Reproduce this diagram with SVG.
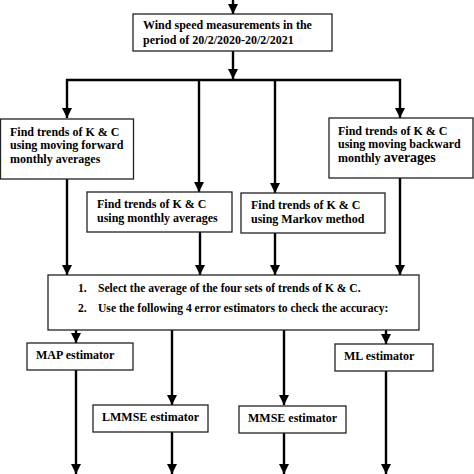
<svg xmlns="http://www.w3.org/2000/svg" width="474" height="474" viewBox="0 0 474 474">
<defs>
<marker id="ah" markerUnits="userSpaceOnUse" markerWidth="10" markerHeight="10" refX="8" refY="4" orient="auto" viewBox="0 0 8 8">
<path d="M0,0 L8,4 L0,8 Z" fill="#000"/>
</marker>
<style>
.box{fill:#fff;stroke:#222;stroke-width:1.3}
.t{font-family:"Liberation Serif","Times New Roman",serif;font-weight:bold;font-size:12px;fill:#000}
.s{font-size:11.6px}
.c{stroke:#000;stroke-width:2.4;fill:none}
.a{marker-end:url(#ah)}
</style>
</defs>
<rect width="474" height="474" fill="#fff"/>
<g id="connectors">
<path class="c a" d="M233,0 V14"/>
<path class="c a" d="M233,51 V79"/>
<path class="c" d="M66,80 H401"/>
<path class="c a" d="M67,79 V118"/>
<path class="c a" d="M199,79 V192"/>
<path class="c a" d="M275,79 V193"/>
<path class="c a" d="M400,79 V118"/>
<path class="c a" d="M67,179 V275"/>
<path class="c a" d="M200,232 V275"/>
<path class="c a" d="M275,233 V275"/>
<path class="c a" d="M400,178 V275"/>
<path class="c a" d="M76,330 V343"/>
<path class="c a" d="M172,330 V405"/>
<path class="c a" d="M284,330 V405"/>
<path class="c a" d="M386,330 V344"/>
<path class="c a" d="M76,370 V474"/>
<path class="c a" d="M172,432 V474"/>
<path class="c a" d="M284,433 V474"/>
<path class="c a" d="M386,371 V474"/>
</g>
<g id="wind">
<rect class="box" x="133" y="14" width="199" height="37"/>
<text class="t" x="143" y="29">Wind speed measurements in the</text>
<text class="t" x="143" y="44">period of 20/2/2020-20/2/2021</text>
</g>
<g id="forward">
<rect class="box" x="0.5" y="119" width="133" height="60"/>
<text class="t" x="10" y="136" font-size="12.4">Find trends of K &amp; C</text>
<text class="t" x="10" y="149" font-size="12.4">using moving forward</text>
<text class="t" x="10" y="163" font-size="12.4">monthly averages</text>
</g>
<g id="backward">
<rect class="box" x="329" y="118" width="144" height="60"/>
<text class="t" x="338" y="135">Find trends of K &amp; C</text>
<text class="t" x="338" y="148">using moving backward</text>
<text class="t" x="338" y="162">monthly <tspan font-size="14">averages</tspan></text>
</g>
<g id="monthly">
<rect class="box" x="87" y="192" width="145" height="40"/>
<text class="t" x="97" y="208">Find trends of K &amp; C</text>
<text class="t" x="97" y="222">using monthly averages</text>
</g>
<g id="markov">
<rect class="box" x="241" y="193" width="144" height="40"/>
<text class="t" x="251" y="209">Find trends of K &amp; C</text>
<text class="t" x="251" y="223">using Markov method</text>
</g>
<g id="select">
<rect class="box" x="48" y="275" width="371" height="55"/>
<text class="t s" x="78" y="292">1.</text>
<text class="t s" x="98" y="292">Select the average of the four sets of trends of K &amp; C.</text>
<text class="t s" x="78" y="312">2.</text>
<text class="t s" x="98" y="312">Use the following 4 error estimators to check the accuracy:</text>
</g>
<g id="map">
<rect class="box" x="27" y="343" width="106" height="27"/>
<text class="t" x="36" y="359">MAP estimator</text>
</g>
<g id="ml">
<rect class="box" x="335" y="344" width="98" height="27"/>
<text class="t" x="344" y="360">ML estimator</text>
</g>
<g id="lmmse">
<rect class="box" x="93" y="405" width="115" height="27"/>
<text class="t" x="102" y="421">LMMSE estimator</text>
</g>
<g id="mmse">
<rect class="box" x="239" y="406" width="107" height="27"/>
<text class="t" x="248" y="422">MMSE estimator</text>
</g>
</svg>
